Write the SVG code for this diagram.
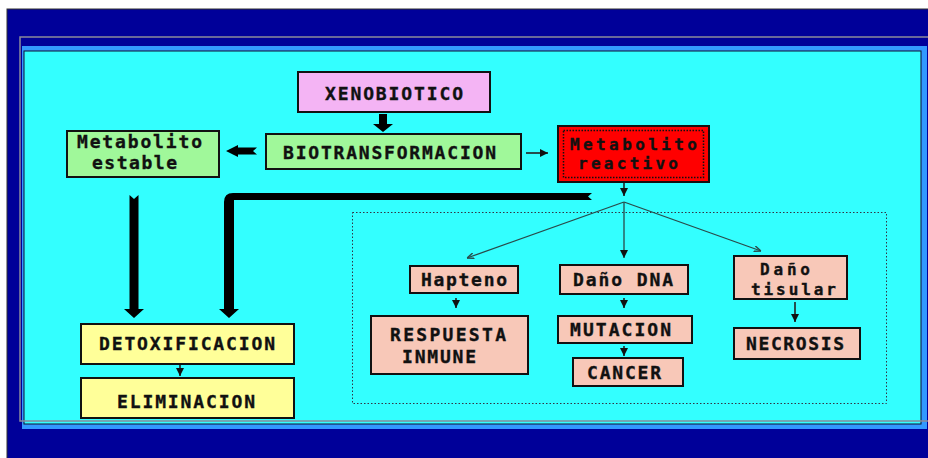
<svg xmlns="http://www.w3.org/2000/svg" width="928" height="458" viewBox="0 0 928 458">
<defs>
<style>
.t{font-family:"DejaVu Sans Mono","Liberation Mono",monospace;font-weight:bold;font-size:18px;fill:#111;stroke:#111;stroke-width:0.35;}
.s{font-size:16px;}
.box{stroke:#111;stroke-width:2;}
.thin{stroke:#222;stroke-width:1.6;fill:none;}
.fan{stroke:#2a4a4a;stroke-width:1.3;fill:none;}
.big{fill:#000;}
</style>
<marker id="ah" viewBox="0 0 10 10" refX="10" refY="5" markerWidth="8" markerHeight="8" markerUnits="userSpaceOnUse" orient="auto">
<path d="M0,0 L10,5 L0,10 z" fill="#111"/>
</marker>
<marker id="fh" viewBox="0 0 10 10" refX="10" refY="5" markerWidth="7" markerHeight="7" markerUnits="userSpaceOnUse" orient="auto">
<path d="M0,1 L10,5 L0,9" fill="none" stroke="#2a4a4a" stroke-width="2"/>
</marker>
</defs>
<rect width="928" height="458" fill="#ffffff"/>
<rect x="7" y="9" width="922" height="450" fill="#000099" stroke="#333" stroke-width="1"/>
<rect x="22" y="46" width="905" height="383" fill="#3399ff"/>
<rect x="24" y="51" width="897" height="373" fill="#33ffff" stroke="#113" stroke-width="1"/>
<polyline points="928,37 20,37 20,421 928,421" fill="none" stroke="#8a8a9a" stroke-width="1.5"/>
<rect x="352.5" y="212.5" width="534" height="191" fill="none" stroke="#334" stroke-width="1" stroke-dasharray="1.5,2"/>

<g id="connectors">
<path class="big" d="M379,114 H387 V124 H393 L383,132 L373,124 H379 Z"/>
<path class="big" d="M257,147.5 L253,151 L257,154.5 H238 V157 L226,151 L238,145 V147.5 Z"/>
<line class="thin" x1="526" y1="153" x2="548" y2="153" marker-end="url(#ah)"/>
<line class="thin" x1="624" y1="182" x2="624" y2="196" marker-end="url(#ah)"/>
<line class="fan" x1="624" y1="202" x2="467" y2="258" marker-end="url(#fh)"/>
<line class="fan" x1="624" y1="202" x2="624" y2="258" marker-end="url(#ah)"/>
<line class="fan" x1="624" y1="202" x2="761" y2="251" marker-end="url(#fh)"/>
<path class="big" d="M129.5,195 L134,199 L138.5,195 V309 H144 L134,318 L124,309 H129.5 Z"/>
<path class="big" d="M592,193 L588,196.5 L592,200 H234 V309 H239 L229,318 L219,309 H224 V202 Q224,193 233,193 Z"/>
<line class="thin" x1="456" y1="298" x2="456" y2="308" marker-end="url(#ah)"/>
<line class="thin" x1="624" y1="298" x2="624" y2="308" marker-end="url(#ah)"/>
<line class="thin" x1="624" y1="346" x2="624" y2="356" marker-end="url(#ah)"/>
<line class="thin" x1="795" y1="302" x2="795" y2="322" marker-end="url(#ah)"/>
<line class="thin" x1="180" y1="364" x2="180" y2="376" marker-end="url(#ah)"/>
</g>

<g id="xenobiotico">
<rect class="box" x="298" y="72" width="192" height="40" fill="#f4b4f4"/>
<text class="t" x="325" y="100" textLength="138" lengthAdjust="spacing">XENOBIOTICO</text>
</g>
<g id="biotransformacion">
<rect class="box" x="266" y="134" width="255" height="35" fill="#a0f89a"/>
<text class="t" x="283" y="159" textLength="213" lengthAdjust="spacing">BIOTRANSFORMACION</text>
</g>
<g id="metabolito-estable">
<rect class="box" x="67" y="131" width="152" height="46" fill="#a0f89a"/>
<text class="t" x="77" y="148" textLength="125" lengthAdjust="spacing">Metabolito</text>
<text class="t" x="92" y="169" textLength="85" lengthAdjust="spacing">estable</text>
</g>
<g id="metabolito-reactivo">
<rect class="box" x="558" y="126" width="151" height="56" fill="#ff0000"/>
<rect x="563.5" y="130.5" width="140" height="47" fill="none" stroke="#111" stroke-width="1.5" stroke-dasharray="1.5,1.5"/>
<text class="t s" x="570" y="150" textLength="127" lengthAdjust="spacing">Metabolito</text>
<text class="t s" x="578" y="169" textLength="100" lengthAdjust="spacing">reactivo</text>
</g>
<g id="hapteno">
<rect class="box" x="410" y="266" width="108" height="27" fill="#f8c8b8"/>
<text class="t" x="421" y="286" textLength="86" lengthAdjust="spacing">Hapteno</text>
</g>
<g id="dano-dna">
<rect class="box" x="560" y="265" width="128" height="29" fill="#f8c8b8"/>
<text class="t" x="573" y="286" textLength="100" lengthAdjust="spacing">Daño DNA</text>
</g>
<g id="dano-tisular">
<rect class="box" x="734" y="256" width="113" height="43" fill="#f8c8b8"/>
<text class="t s" x="760" y="275" textLength="50" lengthAdjust="spacing">Daño</text>
<text class="t s" x="751" y="295" textLength="85" lengthAdjust="spacing">tisular</text>
</g>
<g id="respuesta-inmune">
<rect class="box" x="371" y="316" width="157" height="58" fill="#f8c8b8"/>
<text class="t" x="390" y="341" textLength="116" lengthAdjust="spacing">RESPUESTA</text>
<text class="t" x="402" y="363" textLength="74" lengthAdjust="spacing">INMUNE</text>
</g>
<g id="mutacion">
<rect class="box" x="558" y="316" width="134" height="27" fill="#f8c8b8"/>
<text class="t" x="570" y="336" textLength="101" lengthAdjust="spacing">MUTACION</text>
</g>
<g id="cancer">
<rect class="box" x="573" y="358" width="110" height="28" fill="#f8c8b8"/>
<text class="t" x="587" y="379" textLength="74" lengthAdjust="spacing">CANCER</text>
</g>
<g id="necrosis">
<rect class="box" x="734" y="328" width="126" height="31" fill="#f8c8b8"/>
<text class="t" x="746" y="350" textLength="98" lengthAdjust="spacing">NECROSIS</text>
</g>
<g id="detoxificacion">
<rect class="box" x="81" y="324" width="213" height="40" fill="#ffff99"/>
<text class="t" x="99" y="350" textLength="176" lengthAdjust="spacing">DETOXIFICACION</text>
</g>
<g id="eliminacion">
<rect class="box" x="81" y="378" width="213" height="40" fill="#ffff99"/>
<text class="t" x="117" y="408" textLength="138" lengthAdjust="spacing">ELIMINACION</text>
</g>
</svg>
